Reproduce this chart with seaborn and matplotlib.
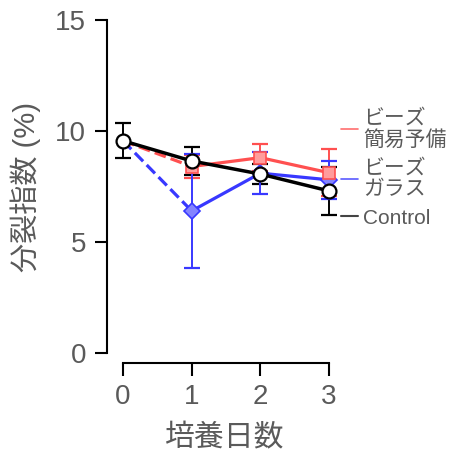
import numpy as np
import pandas as pd
import matplotlib
matplotlib.use("Agg")
import matplotlib.pyplot as plt
import seaborn as sns
from matplotlib.lines import Line2D

sns.set_style("ticks")
plt.rcParams['font.family'] = ['Liberation Sans', 'Noto Sans CJK JP', 'DejaVu Sans']

# ---- data ----
days = [0, 1, 2, 3]
control_mean = [9.56, 8.65, 8.06, 7.30]
control_err = [0.78, 0.62, 0.45, 1.10]

later_days = [1, 2, 3]
simple_mean = [8.40, 8.80, 8.12]
simple_err = [0.53, 0.60, 1.05]
glass_mean = [6.40, 8.10, 7.80]
glass_err = [2.55, 0.95, 0.85]

labels = ["ビーズ\n簡易予備", "ビーズ\nガラス", "Control"]
xlabel = "培養日数"
ylabel = "分裂指数 (%)"
yticks = [0, 5, 10, 15]

RED = "#ff5050"
RED_FILL = "#ff9c9c"
BLUE = "#3838ff"
BLUE_FILL = "#8484ff"
TXT = "#5a5a5a"

W, H = 452, 451
fig = plt.figure(figsize=(W / 100, H / 100), dpi=100)
ax = fig.add_axes([107 / W, (H - 353) / H, 236 / W, 333 / H])

ctrl = pd.DataFrame({"day": days, "val": control_mean})
simp = pd.DataFrame({"day": later_days, "val": simple_mean})
glas = pd.DataFrame({"day": later_days, "val": glass_mean})
simp_d = pd.DataFrame({"day": [0, 1], "val": [control_mean[0], simple_mean[0]]})
glas_d = pd.DataFrame({"day": [0, 1], "val": [control_mean[0], glass_mean[0]]})

# error bars
ax.errorbar(days, control_mean, yerr=control_err, fmt="none", ecolor="black",
            elinewidth=1.4, capsize=5.5, capthick=1.6, zorder=2)
ax.errorbar(later_days, simple_mean, yerr=simple_err, fmt="none", ecolor=RED,
            elinewidth=1.4, capsize=5.5, capthick=1.6, zorder=2)
ax.errorbar(later_days, glass_mean, yerr=glass_err, fmt="none", ecolor=BLUE,
            elinewidth=1.4, capsize=5.5, capthick=1.6, zorder=2)

# dashed segments
sns.lineplot(data=simp_d, x="day", y="val", ax=ax, color=RED, lw=2.3,
             linestyle="--", zorder=3)
sns.lineplot(data=glas_d, x="day", y="val", ax=ax, color=BLUE, lw=2.3,
             linestyle="--", zorder=3)

# solid lines
sns.lineplot(data=ctrl, x="day", y="val", ax=ax, color="black", lw=2.5,
             marker="o", markersize=10, markerfacecolor="white",
             markeredgecolor="black", markeredgewidth=1.6, zorder=6)
sns.lineplot(data=simp, x="day", y="val", ax=ax, color=RED, lw=2.3,
             marker="s", markersize=9, markerfacecolor=RED_FILL,
             markeredgecolor=RED, markeredgewidth=1.2, zorder=5)
sns.lineplot(data=glas, x="day", y="val", ax=ax, color=BLUE, lw=2.3,
             marker="D", markersize=8, markerfacecolor=BLUE_FILL,
             markeredgecolor=BLUE, markeredgewidth=1.2, zorder=4)

ax.set_xlim(-16 / 68.7, -16 / 68.7 + 236 / 68.7)
ax.set_ylim(0, 15)
ax.set_xticks(days)
ax.set_yticks(yticks)
ax.set_xticklabels([str(d) for d in days])
ax.set_yticklabels([str(t) for t in yticks])
sns.despine(ax=ax)
ax.spines["bottom"].set_position(("outward", 7.5))
ax.spines["bottom"].set_bounds(0, 3)
ax.spines["left"].set_bounds(0, 15)
for s in ("left", "bottom"):
    ax.spines[s].set_linewidth(1.5)
    ax.spines[s].set_color("black")
ax.tick_params(axis="both", length=9, width=1.5, colors="black",
               labelcolor=TXT, labelsize=20, pad=6)
ax.set_xlabel(xlabel, fontsize=21.5, color=TXT, labelpad=10)
ax.set_ylabel(ylabel, fontsize=21, color=TXT, labelpad=10)

handles = [Line2D([], [], color="#ff6e6e", lw=1.2),
           Line2D([], [], color="#5a5aff", lw=1.2),
           Line2D([], [], color="#444444", lw=1.5)]
leg = ax.legend(handles, labels, loc="center left",
                bbox_to_anchor=(341 / W, (H - 168) / H),
                bbox_transform=fig.transFigure, frameon=False,
                fontsize=15, handlelength=0.8, handletextpad=0.25,
                labelspacing=0.45, borderpad=0, borderaxespad=0)
for t in leg.get_texts():
    t.set_color(TXT)
    t.set_linespacing(1.15)

fig.savefig("out.png", dpi=100)
